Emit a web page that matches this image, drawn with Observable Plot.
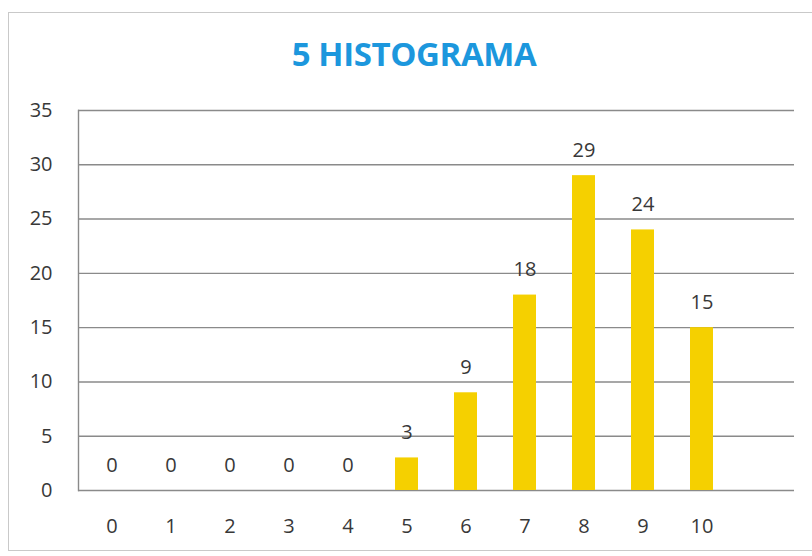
<!DOCTYPE html>
<html>
<head>
<meta charset="utf-8">
<script src="https://cdn.jsdelivr.net/npm/d3@7"></script>
<script src="https://cdn.jsdelivr.net/npm/@observablehq/plot@0.6"></script>
<style>
  html, body { margin: 0; padding: 0; background: #ffffff; }
  #wrap { position: relative; width: 812px; height: 556px; overflow: hidden; background: #fff; }
  #border { position: absolute; left: 8px; top: 12px; width: 900px; height: 539px; border: 1px solid #c9c9c9; box-sizing: border-box; }
  #title { position: absolute; left: 0; width: 828px; top: 31px; text-align: center; line-height: 45px;
           font-family: "Open Sans", sans-serif; font-weight: 700; font-size: 33px; color: #1c97dd; letter-spacing: -0.4px; }
  #chart { position: absolute; left: 0; top: 0; }
</style>
</head>
<body>
<div id="wrap">
  <div id="border"></div>
  <div id="title">5 HISTOGRAMA</div>
  <div id="chart"></div>
</div>
<script>
const categories = ["0","1","2","3","4","5","6","7","8","9","10"];
const counts = [0, 0, 0, 0, 0, 3, 9, 18, 29, 24, 15];
const yTicks = [0, 5, 10, 15, 20, 25, 30, 35];
const emptySlot = " ";

const data = categories.map((c, i) => ({cat: c, n: counts[i]}));

const chart = Plot.plot({
  width: 812,
  height: 556,
  marginTop: 110,
  marginBottom: 66,
  marginLeft: 78,
  marginRight: 18,
  style: {background: "transparent", fontFamily: "Open Sans, sans-serif", fontSize: "20px", color: "#383838"},
  x: {domain: [...categories, emptySlot], paddingInner: 0.61, paddingOuter: 0.305, label: null},
  y: {domain: [0, 35], label: null},
  marks: [
    Plot.ruleY(yTicks, {stroke: "#8a8a8a", strokeWidth: 1.4, strokeOpacity: 1}),
    Plot.frame({anchor: "left", stroke: "#8a8a8a", strokeWidth: 1.4}),
    Plot.barY(data, {x: "cat", y: "n", fill: "#f5d000"}),
    Plot.text(data, {x: "cat", y: "n", text: d => String(d.n), dy: -25, fill: "#383838", fontSize: 20}),
    Plot.axisY({ticks: yTicks, tickSize: 0, tickPadding: 26, fontSize: 20, fill: "#383838", label: null}),
    Plot.axisX({tickSize: 0, tickPadding: 28, fontSize: 20, fill: "#383838", label: null})
  ]
});
document.getElementById("chart").appendChild(chart);
</script>
</body>
</html>
